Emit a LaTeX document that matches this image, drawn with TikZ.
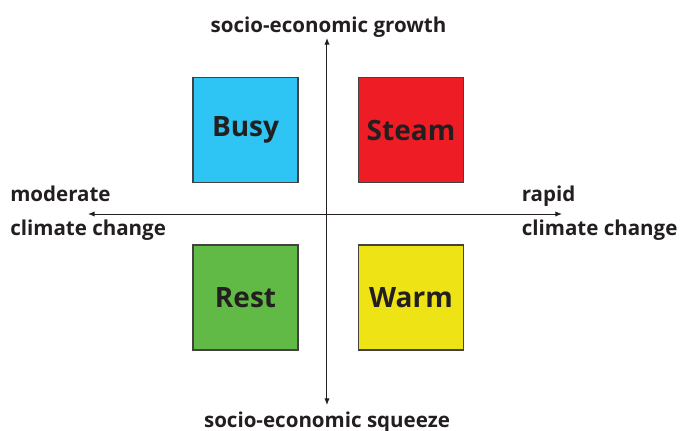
\documentclass[tikz,border=0pt]{standalone}
\usepackage{fontspec}
\setmainfont{Open Sans}
\usetikzlibrary{arrows.meta, positioning}

\definecolor{inkgrey}{HTML}{231F20}
\definecolor{busyblue}{HTML}{2EC4F3}
\definecolor{steamred}{HTML}{EE1C25}
\definecolor{restgreen}{HTML}{62BA46}
\definecolor{warmyellow}{HTML}{EEE314}

\begin{document}
\begin{tikzpicture}[x=0.75pt, y=0.75pt, on grid, node distance=63pt and 61.1pt,
    quad/.style={draw=inkgrey!85, line width=0.8pt, minimum size=78.75pt,
      inner sep=0pt, text=inkgrey, font=\fontsize{21}{24}\selectfont\bfseries},
    axis/.style={draw=inkgrey, line width=0.75pt, -{Latex[length=5pt,width=4pt]}},
    axlabel/.style={text=inkgrey, inner sep=0pt, font=\fontsize{15.4}{18}\selectfont\bfseries}]
  \useasboundingbox (-327,-216) rectangle (355,214);
  \coordinate (o) at (0,0);
  % axis ends
  \coordinate (n) at (0,176);
  \coordinate (s) at (0,-191);
  \coordinate (w) at (-239,0);
  \coordinate (e) at (235,0);
  \draw[axis] (o) -- (n);
  \draw[axis] (o) -- (w);
  \draw[axis] (o) -- (e);
  \draw[axis] (o) -- (s);
  % the four futures
  \node [quad, fill=busyblue] [above left=of o, anchor=center] (busy) {Busy};
  \node [quad, fill=steamred] [above right=63pt and 63pt of o, anchor=center] (steam) {Steam};
  \node [quad, fill=restgreen] [below left=62.6pt and 61.1pt of o, anchor=center] (rest) {Rest};
  \node [quad, fill=warmyellow] [below right=62.6pt and 63pt of o, anchor=center] (warm) {Warm};
  % axis labels
  \node [axlabel, anchor=base] at (1.5,182) (growth) {socio-economic growth};
  \node [axlabel, anchor=base] at (0,-213) (squeeze) {socio-economic squeeze};
  \node [axlabel, anchor=base west] at (-317,13) (moderate) {moderate};
  \node [axlabel, anchor=base west] at (-317,-21) (modcc) {climate change};
  \node [axlabel, anchor=base west] at (194.5,13) (rapid) {rapid};
  \node [axlabel, anchor=base west] at (194.5,-21) (rapcc) {climate change};
\end{tikzpicture}
\end{document}
